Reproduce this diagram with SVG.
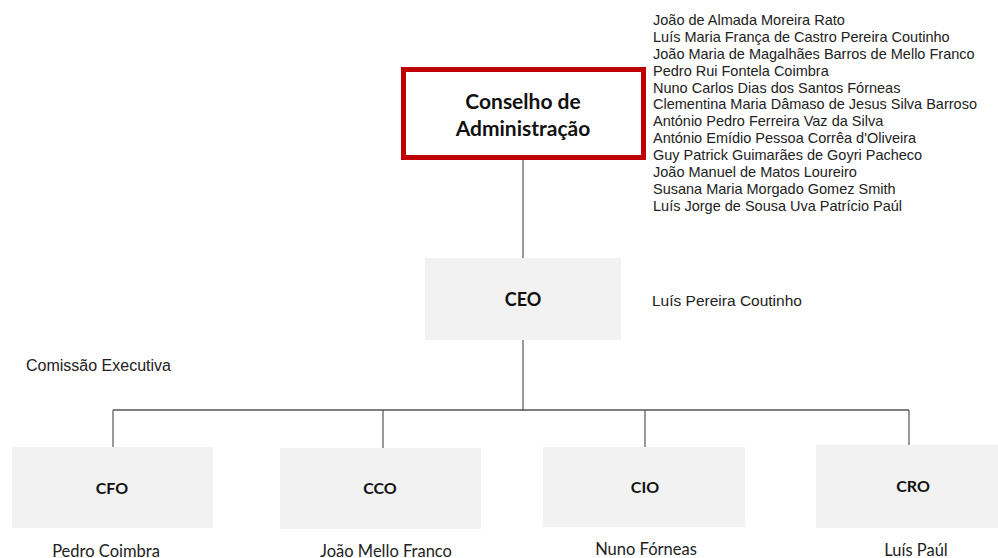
<svg xmlns="http://www.w3.org/2000/svg" width="998" height="558" viewBox="0 0 998 558">
<style>
.box{fill:#f2f2f2;stroke:none}
.lbl{font-family:"Lato","Liberation Sans",sans-serif;font-weight:bold;font-size:16px;fill:#111;text-anchor:middle}
.big{font-size:21px}
.nm{font-family:"Liberation Sans",sans-serif;font-size:14.5px;fill:#222}
.pn{font-family:"Lato","Liberation Sans",sans-serif;font-size:16.5px;fill:#222;text-anchor:middle}
.ln{stroke:#555;stroke-width:1.2;fill:none}
</style>
<rect width="998" height="558" fill="#fff"/>
<g id="connectors">
<line class="ln" x1="523" y1="160" x2="523" y2="258"/>
<line class="ln" x1="523" y1="340" x2="523" y2="411"/>
<line class="ln" x1="113" y1="410" x2="909" y2="410" style="stroke-width:1.6"/>
<line class="ln" x1="113" y1="410" x2="113" y2="447"/>
<line class="ln" x1="383" y1="410" x2="383" y2="448"/>
<line class="ln" x1="645" y1="410" x2="645" y2="447"/>
<line class="ln" x1="909" y1="410" x2="909" y2="445"/>
</g>
<g id="conselho">
<rect x="403.5" y="69.5" width="240" height="88" fill="#fff" stroke="#c00000" stroke-width="5"/>
<text class="lbl big" x="523" y="109">Conselho de</text>
<text class="lbl big" x="523" y="136">Administração</text>
</g>
<g id="members">
<text class="nm" x="653" y="25">João de Almada Moreira Rato</text>
<text class="nm" x="653" y="42">Luís Maria França de Castro Pereira Coutinho</text>
<text class="nm" x="653" y="59">João Maria de Magalhães Barros de Mello Franco</text>
<text class="nm" x="653" y="76">Pedro Rui Fontela Coimbra</text>
<text class="nm" x="653" y="93">Nuno Carlos Dias dos Santos Fórneas</text>
<text class="nm" x="653" y="109">Clementina Maria Dâmaso de Jesus Silva Barroso</text>
<text class="nm" x="653" y="126">António Pedro Ferreira Vaz da Silva</text>
<text class="nm" x="653" y="143">António Emídio Pessoa Corrêa d'Oliveira</text>
<text class="nm" x="653" y="160">Guy Patrick Guimarães de Goyri Pacheco</text>
<text class="nm" x="653" y="177">João Manuel de Matos Loureiro</text>
<text class="nm" x="653" y="194">Susana Maria Morgado Gomez Smith</text>
<text class="nm" x="653" y="211">Luís Jorge de Sousa Uva Patrício Paúl</text>
</g>
<g id="ceo">
<rect class="box" x="425" y="258" width="196" height="82"/>
<text class="lbl" x="523" y="306" style="font-size:18px">CEO</text>
<text class="nm" x="652" y="306" style="font-size:15.5px">Luís Pereira Coutinho</text>
</g>
<text class="nm" x="26" y="371" style="font-size:16px">Comissão Executiva</text>
<g id="cfo">
<rect class="box" x="12" y="447" width="201" height="81"/>
<text class="lbl" x="112" y="494">CFO</text>
<text class="pn" x="106" y="557">Pedro Coimbra</text>
</g>
<g id="cco">
<rect class="box" x="280" y="448" width="201" height="81"/>
<text class="lbl" x="380" y="494">CCO</text>
<text class="pn" x="386" y="557">João Mello Franco</text>
</g>
<g id="cio">
<rect class="box" x="543" y="447" width="202" height="80"/>
<text class="lbl" x="645" y="493">CIO</text>
<text class="pn" x="646" y="555">Nuno Fórneas</text>
</g>
<g id="cro">
<rect class="box" x="816" y="445" width="201" height="83"/>
<text class="lbl" x="913" y="492">CRO</text>
<text class="pn" x="916" y="556">Luís Paúl</text>
</g>
</svg>
